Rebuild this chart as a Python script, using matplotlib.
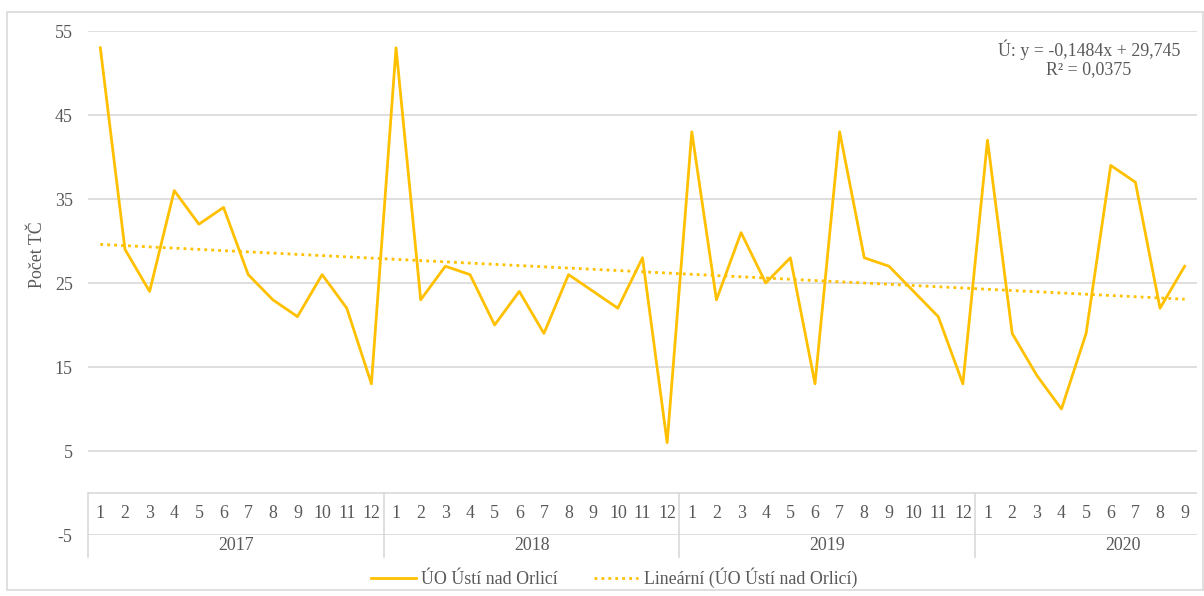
import numpy as np
import matplotlib
matplotlib.use("Agg")
import matplotlib.pyplot as plt
from matplotlib.patches import Rectangle
from matplotlib.lines import Line2D

plt.rcParams['font.family'] = ['Liberation Serif', 'DejaVu Serif']
plt.rcParams['axes.unicode_minus'] = False

years = ['2017', '2018', '2019', '2020']
months_per_year = [12, 12, 12, 9]
values_2017 = [53, 29, 24, 36, 32, 34, 26, 23, 21, 26, 22, 13]
values_2018 = [53, 23, 27, 26, 20, 24, 19, 26, 24, 22, 28, 6]
values_2019 = [43, 23, 31, 25, 28, 13, 43, 28, 27, 24, 21, 13]
values_2020 = [42, 19, 14, 10, 19, 39, 37, 22, 27]
series_name = 'ÚO Ústí nad Orlicí'
trend_name = 'Lineární (ÚO Ústí nad Orlicí)'
eq_text = 'Ú: y = -0,1484x + 29,745\nR² = 0,0375'

values = np.array(values_2017 + values_2018 + values_2019 + values_2020, dtype=float)
n = len(values)
x = np.arange(n)
month_labels = [str(m) for k in months_per_year for m in range(1, k + 1)]

# linear trend (x = 1..n like Excel)
slope, intercept = np.polyfit(x + 1, values, 1)
trend = slope * (x + 1) + intercept

gold = '#FFC000'
grid_c = '#D9D9D9'
txt_c = '#595959'
fs = 12.9

fig = plt.figure(figsize=(12.04, 5.96), dpi=100)
W, H = 1204, 596
ax = fig.add_axes([88 / W, 1 - 535 / H, 1109 / W, 504 / H])

# outer border
fig.patches.append(Rectangle((7 / W, 1 - 590 / H), 1196 / W, 578 / H,
                             transform=fig.transFigure, fill=False,
                             edgecolor=grid_c, linewidth=1.2))

ax.set_xlim(-0.5, n - 0.5)
ax.set_ylim(-5, 55)
for s in ax.spines.values():
    s.set_visible(False)

for yv in [5, 15, 25, 35, 45, 55]:
    ax.axhline(yv, color=grid_c, linewidth=1.2, zorder=0)
ax.axhline(0, color=grid_c, linewidth=1.2, zorder=0)
ax.axhline(-5, color=grid_c, linewidth=1.2, zorder=0)

ax.plot(x, values, color=gold, linewidth=2, zorder=3)
ax.plot(x, trend, color=gold, linewidth=2, linestyle=(0, (1, 1.5)), zorder=2)

ax.set_yticks([-5, 5, 15, 25, 35, 45, 55])
ax.set_xticks([])
ax.tick_params(axis='y', length=0, labelsize=fs, labelcolor=txt_c, pad=11)

# multi-level category axis
for i, lab in enumerate(month_labels):
    ax.text(i, -2.5, lab, ha='center', va='center', fontsize=fs, color=txt_c)
start = 0
bounds = [0]
for yr, k in zip(years, months_per_year):
    ax.text(start + (k - 1) / 2 if yr != '2020' else start + 5.5, -6.25, yr,
            ha='center', va='center', fontsize=fs, color=txt_c, clip_on=False)
    start += k
    bounds.append(start)
for b in bounds[:-1]:
    ax.add_line(Line2D([b - 0.5, b - 0.5], [0, -7.6], color=grid_c,
                       linewidth=1.2, clip_on=False))

ax.text(1089 / W, 1 - 59 / H, eq_text, transform=fig.transFigure, ha='center',
        va='center', fontsize=fs, color=txt_c, linespacing=1.1)

fig.text(38 / W, 1 - 255 / H, 'Počet TČ', rotation=90, ha='center', va='center',
         fontsize=fs, color=txt_c)

handles = [Line2D([], [], color=gold, linewidth=2),
           Line2D([], [], color=gold, linewidth=2, linestyle=(0, (1, 1.5)))]
fig.legend(handles, [series_name, trend_name], loc='center',
           bbox_to_anchor=(614 / W, 1 - 578 / H), ncol=2, frameon=False,
           fontsize=fs, labelcolor=txt_c, handlelength=2.5, columnspacing=2.0,
           handletextpad=0.3)

fig.savefig('out.png', dpi=100)
